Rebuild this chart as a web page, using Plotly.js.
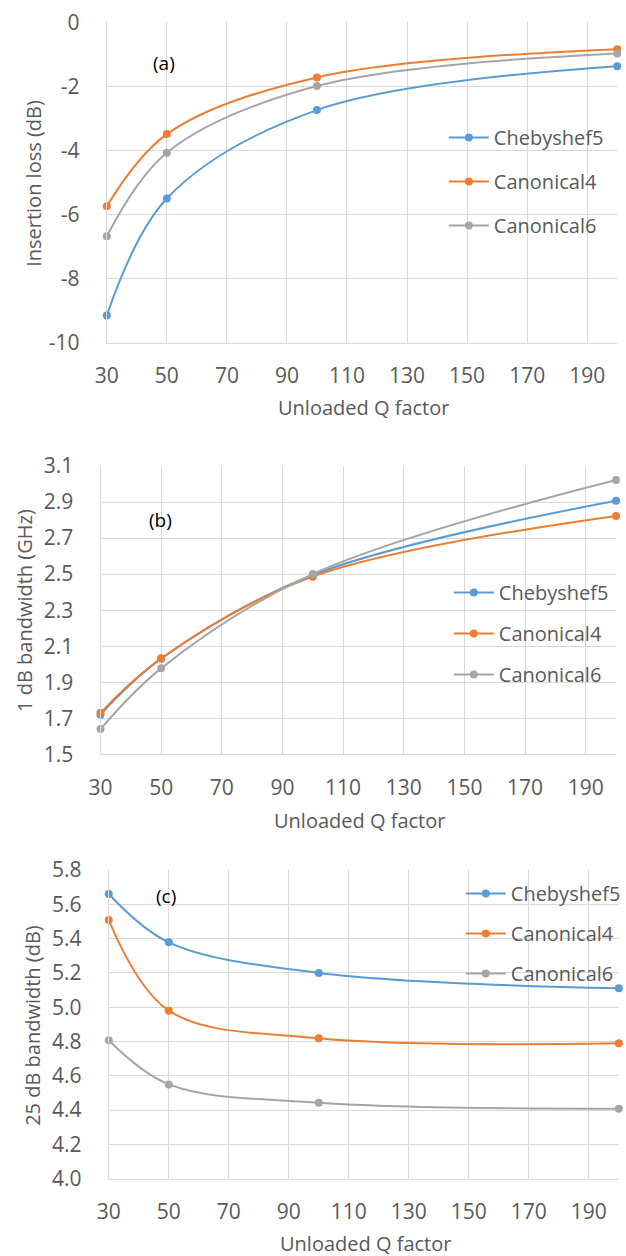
<!DOCTYPE html>
<html>
<head>
<meta charset="utf-8">
<script src="https://cdn.plot.ly/plotly-3.0.1.min.js"></script>
<style>
  html, body { margin: 0; padding: 0; background: #ffffff; }
  #chart { width: 626px; height: 1256px; }
</style>
</head>
<body>
<div id="chart"></div>
<script>
// ---- Data ----
const qFactor = [30, 50, 100, 200];
const seriesNames = ["Chebyshef5", "Canonical4", "Canonical6"];
const seriesColors = ["#5B9BD5", "#ED7D31", "#A5A5A5"];

// (a) Insertion loss (dB)
const lossCheb5 = [-9.15, -5.50, -2.74, -1.37];
const lossCan4  = [-5.74, -3.49, -1.72, -0.84];
const lossCan6  = [-6.68, -4.07, -1.99, -0.97];

// (b) 1 dB bandwidth (GHz)
const bw1Cheb5 = [1.72, 2.03, 2.495, 2.907];
const bw1Can4  = [1.73, 2.033, 2.486, 2.823];
const bw1Can6  = [1.64, 1.977, 2.50, 3.022];

// (c) 25 dB bandwidth (dB)
const bw25Cheb5 = [5.66, 5.378, 5.20, 5.11];
const bw25Can4  = [5.508, 4.98, 4.819, 4.79];
const bw25Can6  = [4.807, 4.55, 4.443, 4.408];

const xTickVals = [30, 50, 70, 90, 110, 130, 150, 170, 190];
const lossTickVals = [-10, -8, -6, -4, -2, 0];
const lossTickText = ["-10", "-8", "-6", "-4", "-2", "0"];
const panelLabels = ["(a)", "(b)", "(c)"];
const yTitles = ["Insertion loss (dB)", "1 dB bandwidth (GHz)", "25 dB bandwidth (dB)"];
const xTitle = "Unloaded Q factor";

// ---- Helpers ----
const W = 626, H = 1256;
const px = v => v / W;
const py = v => 1 - v / H;
const FONT = "Open Sans, Segoe UI, Liberation Sans, sans-serif";
const TXT = "#595959";
const GRID = "#D9D9D9";

const panels = [
  {data: [lossCheb5, lossCan4, lossCan6], xa: "x", ya: "y", legend: "legend"},
  {data: [bw1Cheb5, bw1Can4, bw1Can6], xa: "x2", ya: "y2", legend: "legend2"},
  {data: [bw25Cheb5, bw25Can4, bw25Can6], xa: "x3", ya: "y3", legend: "legend3"}
];

const traces = [];
panels.forEach((p, pi) => {
  p.data.forEach((vals, si) => {
    traces.push({
      type: "scatter",
      mode: "lines+markers",
      x: qFactor,
      y: vals,
      name: seriesNames[si],
      xaxis: p.xa,
      yaxis: p.ya,
      legend: p.legend,
      legendgroup: "g" + pi + "_" + si,
      line: {color: seriesColors[si], width: 2, shape: "spline", smoothing: 1},
      marker: {color: seriesColors[si], size: 8, symbol: "circle"},
      cliponaxis: false
    });
  });
});

function xAxis(domain, anchor) {
  return {
    domain: domain, anchor: anchor, range: [30, 200],
    tickmode: "array", tickvals: xTickVals,
    showgrid: true, gridcolor: GRID, gridwidth: 1,
    showline: true, linecolor: GRID, linewidth: 1,
    zeroline: false, ticks: "", ticklabelstandoff: 14,
    tickfont: {family: FONT, size: 21, color: TXT},
    fixedrange: true
  };
}
function yAxis(domain, anchor, range, dtick, fmt) {
  return {
    domain: domain, anchor: anchor, range: range,
    tick0: range[0], dtick: dtick, tickformat: fmt,
    showgrid: true, gridcolor: GRID, gridwidth: 1,
    showline: true, linecolor: GRID, linewidth: 1,
    zeroline: false, ticks: "", ticklabelstandoff: 22,
    tickfont: {family: FONT, size: 21, color: TXT},
    fixedrange: true
  };
}

function legendBox(xLeft, yTop, gap) {
  return {
    x: px(xLeft), y: py(yTop), xanchor: "left", yanchor: "top",
    xref: "paper", yref: "paper",
    bgcolor: "rgba(0,0,0,0)", borderwidth: 0,
    font: {family: FONT, size: 20, color: TXT},
    tracegroupgap: gap, traceorder: "grouped",
    itemwidth: 40
  };
}

const ann = (text, x, y, opts) => Object.assign({
  text: text, x: px(x), y: py(y), xref: "paper", yref: "paper",
  xanchor: "center", yanchor: "middle", showarrow: false,
  font: {family: FONT, size: 20, color: TXT}
}, opts || {});

const yaxisA = yAxis([py(342.7), py(22.3)], "x", [-10, 0], 2, "d");
yaxisA.tickmode = "array";
yaxisA.tickvals = lossTickVals;
yaxisA.ticktext = lossTickText;

const layout = {
  width: W, height: H,
  margin: {l: 0, r: 0, t: 0, b: 0},
  paper_bgcolor: "#ffffff", plot_bgcolor: "#ffffff",
  showlegend: true,
  xaxis:  xAxis([px(107.3), px(620.2)], "y"),
  yaxis:  yaxisA,
  xaxis2: xAxis([px(101), px(619)], "y2"),
  yaxis2: yAxis([py(754.3), py(466)], "x2", [1.5, 3.1], 0.2, ".1f"),
  xaxis3: xAxis([px(109.3), px(621.8)], "y3"),
  yaxis3: yAxis([py(1178.7), py(870)], "x3", [4.0, 5.8], 0.2, ".1f"),
  legend:  legendBox(446, 118, 15),
  legend2: legendBox(451, 573, 12),
  legend3: legendBox(463, 874, 11),
  annotations: [
    ann(panelLabels[0], 165, 63, {font: {family: FONT, size: 19, color: "#000000"}}),
    ann(panelLabels[1], 161, 520, {font: {family: FONT, size: 19, color: "#000000"}}),
    ann(panelLabels[2], 167, 896, {font: {family: FONT, size: 19, color: "#000000"}}),
    ann(yTitles[0], 33, 183, {textangle: -90}),
    ann(yTitles[1], 25, 610, {textangle: -90}),
    ann(yTitles[2], 32, 1025, {textangle: -90}),
    ann(xTitle, 365, 408),
    ann(xTitle, 361, 820),
    ann(xTitle, 367, 1243)
  ]
};

Plotly.newPlot("chart", traces, layout, {displayModeBar: false, staticPlot: true});
</script>
</body>
</html>
